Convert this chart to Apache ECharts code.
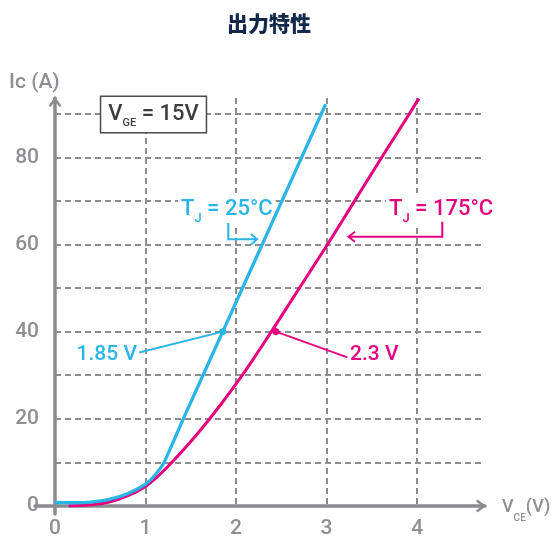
<!DOCTYPE html>
<html><head><meta charset="utf-8">
<script src="https://cdn.jsdelivr.net/npm/echarts@6/dist/echarts.min.js"></script>
<style>html,body{margin:0;padding:0;background:#fff}#c{width:553px;height:539px}</style>
</head><body><div id="c"></div>
<script>
// ---- data ----
const vce25 = [0, 0.2, 0.4, 0.6, 0.8, 1.0, 1.1, 1.2, 1.3, 1.417, 1.853, 2.071, 2.289, 2.507, 2.725, 2.943, 2.99];
const ic25  = [0.8, 0.75, 0.9, 1.5, 2.8, 5.0, 7.0, 9.8, 14.4, 20, 40, 50, 60, 70, 80, 90, 92.2];
const vce175 = [0.15, 0.4, 0.6, 0.8, 1.0, 1.15, 1.3, 1.5, 1.7, 1.85, 2.0, 2.2, 2.39, 2.7, 3.01, 3.31, 3.61, 3.915, 4.02];
const ic175  = [0, 0.3, 0.9, 2.3, 4.5, 7.1, 10.2, 14.8, 19.8, 23.8, 28, 34, 40, 50, 60, 70, 80, 90, 93.5];
const xTicks = [0, 1, 2, 3, 4];
const yTicks = [0, 20, 40, 60, 80];
const point25 = [1.853, 40];
const label25 = [0.93, 35.2];
const point175 = [2.44, 40];
const label175 = [3.23, 34.1];

const FONT = "Roboto, 'Liberation Sans', sans-serif";
const GRAY = '#8a8a8f';
const TXT = '#8e8e93';
const BLUE = '#29b5e6';
const PINK = '#e5007f';
const arrowPath = 'path://M6,0 L12,8 L10.2,9.4 L6,3.8 L1.8,9.4 L0,8 Z';

const chart = echarts.init(document.getElementById('c'));
const zip = (a, b) => a.map((v, i) => [v, b[i]]);
const gridLine = {show: true, showMinLine: false, showMaxLine: false,
  lineStyle: {color: '#8c8c91', width: 2, type: [6, 4]}};
const axisLineStyle = {show: true, onZero: true, symbol: ['none', arrowPath],
  symbolSize: [13, 10], symbolOffset: [0, -4], lineStyle: {color: GRAY, width: 3.5}};

const option = {
  animation: false,
  title: {text: '出力特性', left: 222, top: 8,
    textStyle: {fontFamily: "'Noto Sans CJK JP'", fontSize: 21, fontWeight: 900, color: '#13284b'}},
  grid: [
    {left: 55, top: 98, width: 430, height: 408},
    {left: 35, top: 98, width: 450, height: 416}
  ],
  xAxis: [
    {gridIndex: 0, type: 'value', min: 0, max: 4.75, interval: 1,
      axisLine: {show: false}, axisTick: {show: false},
      axisLabel: {margin: 12, fontSize: 21, fontWeight: 500, color: TXT, fontFamily: FONT,
        formatter: v => xTicks.includes(v) ? String(v) : ''},
      splitLine: gridLine},
    {gridIndex: 1, type: 'value', min: -0.221, max: 4.75,
      axisLine: axisLineStyle, axisTick: {show: false}, axisLabel: {show: false}, splitLine: {show: false}}
  ],
  yAxis: [
    {gridIndex: 0, type: 'value', min: 0, max: 93.6, interval: 10,
      axisLine: {show: false}, axisTick: {show: false},
      axisLabel: {margin: 16, fontSize: 21, fontWeight: 500, color: TXT, fontFamily: FONT,
        formatter: v => yTicks.includes(v) ? String(v) : ''},
      splitLine: gridLine},
    {gridIndex: 1, type: 'value', min: -1.835, max: 93.6,
      axisLine: axisLineStyle, axisTick: {show: false}, axisLabel: {show: false}, splitLine: {show: false}}
  ],
  series: [
    {type: 'line', name: 'Tj175', xAxisIndex: 0, yAxisIndex: 0, data: zip(vce175, ic175),
      showSymbol: false, smooth: 0.2,
      lineStyle: {color: PINK, width: 3}, itemStyle: {color: PINK},
      markLine: {silent: true, symbol: ['circle', 'none'], symbolSize: 7,
        lineStyle: {color: PINK, width: 2, type: 'solid'}, label: {show: false},
        data: [[{coord: point175}, {coord: label175}]]}},
    {type: 'line', name: 'Tj25', xAxisIndex: 0, yAxisIndex: 0, data: zip(vce25, ic25),
      showSymbol: false, smooth: 0.2,
      lineStyle: {color: BLUE, width: 3.3}, itemStyle: {color: BLUE},
      markLine: {silent: true, symbol: ['circle', 'none'], symbolSize: 7,
        lineStyle: {color: BLUE, width: 2, type: 'solid'}, label: {show: false},
        data: [[{coord: point25}, {coord: label25}]]}}
  ],
  graphic: [
    {type: 'text', x: 9, y: 83, z: 5, style: {text: 'Ic (A)', fontSize: 21, fontWeight: 500, fontFamily: FONT, fill: TXT, verticalAlign: 'middle'}},
    {type: 'text', x: 502, y: 507, z: 5, style: {text: '{t|V}{s|CE}{t|(V)}', verticalAlign: 'middle',
      rich: {t: {fontSize: 18, fontWeight: 500, lineHeight: 32, fontFamily: FONT, fill: TXT},
             s: {fontSize: 10, fontWeight: 500, lineHeight: 10, verticalAlign: 'bottom', fontFamily: FONT, fill: TXT}}}},
    {type: 'text', x: 153.5, y: 114.5, z: 5, style: {text: '{t|V}{s|GE}{t| = 15V}', align: 'center', verticalAlign: 'middle',
      backgroundColor: '#fff', borderColor: '#4a4a4a', borderWidth: 1.5, padding: [2, 7, 3, 7],
      rich: {t: {fontSize: 22, fontWeight: 500, lineHeight: 30, fontFamily: FONT, fill: '#3d3d3d'},
             s: {fontSize: 11, fontWeight: 500, lineHeight: 11, verticalAlign: 'bottom', fontFamily: FONT, fill: '#3d3d3d'}}}},
    {type: 'text', x: 178, y: 209, z: 1, style: {text: '{t|T}{s|J}{t| = 25°C}', verticalAlign: 'middle',
      backgroundColor: '#fff', padding: [0, 3],
      rich: {t: {fontSize: 22, fontWeight: 500, lineHeight: 32, fontFamily: FONT, fill: BLUE},
             s: {fontSize: 13, fontWeight: 500, lineHeight: 13, verticalAlign: 'bottom', fontFamily: FONT, fill: BLUE}}}},
    {type: 'text', x: 386, y: 209, z: 1, style: {text: '{t|T}{s|J}{t| = 175°C}', verticalAlign: 'middle',
      backgroundColor: '#fff', padding: [0, 3],
      rich: {t: {fontSize: 22, fontWeight: 500, lineHeight: 32, fontFamily: FONT, fill: PINK},
             s: {fontSize: 13, fontWeight: 500, lineHeight: 13, verticalAlign: 'bottom', fontFamily: FONT, fill: PINK}}}},
    {type: 'text', x: 137, y: 355, z: 5, style: {text: '1.85 V', align: 'right', verticalAlign: 'middle', fontSize: 21, fontWeight: 500, fontFamily: FONT, fill: BLUE}},
    {type: 'text', x: 350, y: 355, z: 5, style: {text: '2.3 V', align: 'left', verticalAlign: 'middle', fontSize: 21, fontWeight: 500, fontFamily: FONT, fill: PINK}},
    {type: 'polyline', z: 5, shape: {points: [[228.3, 223], [228.3, 239.3], [257, 239.3]]}, style: {stroke: BLUE, lineWidth: 2, fill: null}},
    {type: 'polyline', z: 5, shape: {points: [[251, 234], [257, 239.3], [251, 244.5]]}, style: {stroke: BLUE, lineWidth: 2, fill: null}},
    {type: 'polyline', z: 5, shape: {points: [[442.3, 221.7], [442.3, 236.7], [348.5, 236.7]]}, style: {stroke: PINK, lineWidth: 2, fill: null}},
    {type: 'polyline', z: 5, shape: {points: [[355, 231.7], [348.5, 236.7], [355, 241.7]]}, style: {stroke: PINK, lineWidth: 2, fill: null}}
  ]
};
chart.setOption(option);
</script>
</body></html>
